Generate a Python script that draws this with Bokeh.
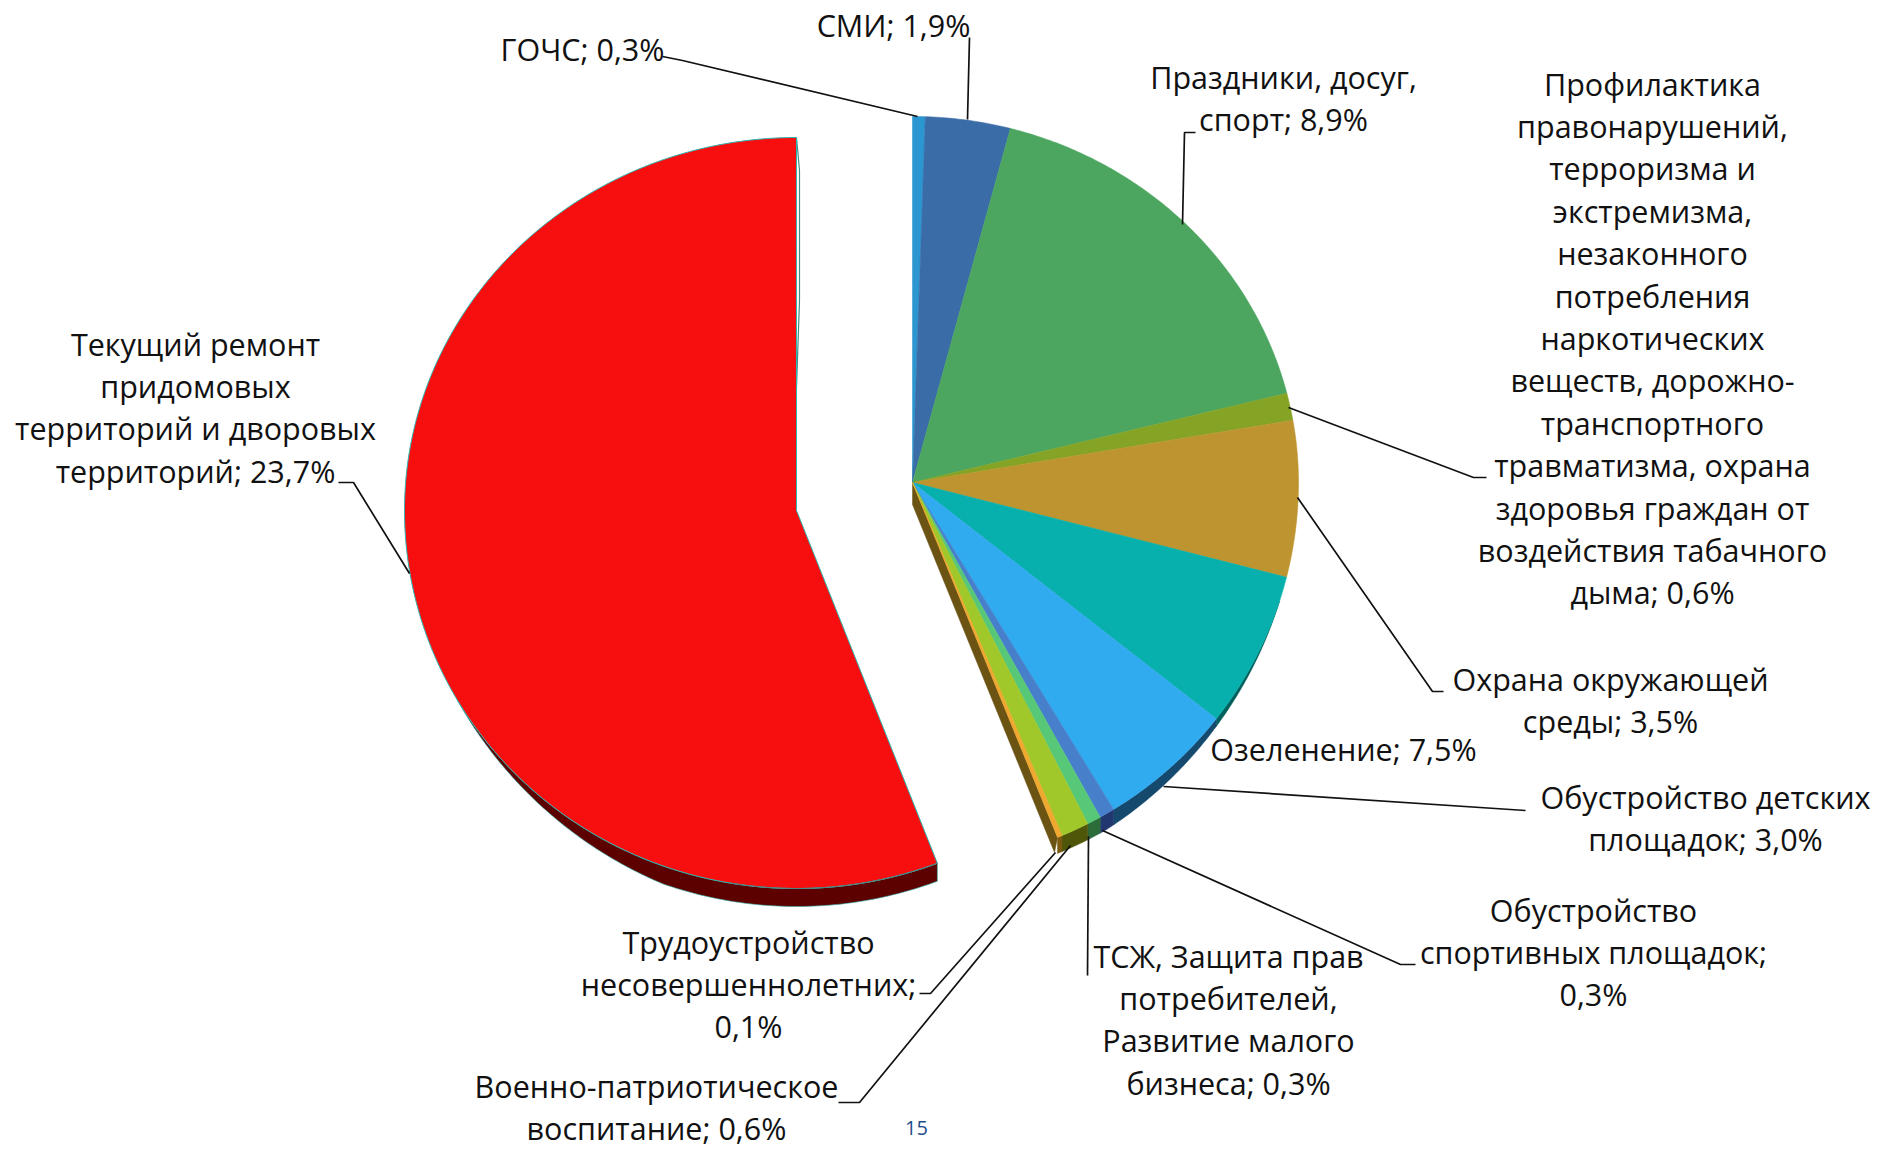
import numpy as np
from bokeh.plotting import figure
from bokeh.core.properties import value
from bokeh.embed import file_html
from bokeh.resources import INLINE

# ---- data ----
right_categories = ["ГОЧС", "СМИ", "Праздники, досуг, спорт", "Профилактика", "Охрана окружающей среды",
                    "Озеленение", "Обустройство детских площадок", "Обустройство спортивных площадок",
                    "ТСЖ", "Военно-патриотическое воспитание", "Трудоустройство несовершеннолетних"]
right_shares = [0.53, 3.55, 17.0, 1.2, 6.7, 6.6, 5.7, 0.64, 0.58, 1.17, 0.2]   # drawn share of the circle, %
red_category = "Текущий ремонт"
red_share = 55.85
right_colors = ["#2B96CF", "#3A6CA8", "#4CA660", "#85A426", "#BD942F", "#07B0AC", "#30ABEF",
                "#477FCB", "#57C878", "#A0C82A", "#EFA830"]
right_side = ["#14506F", "#1C3A5C", "#24583A", "#46580F", "#6B5314", "#005F5C", "#154A6E",
              "#20386F", "#2C6B3A", "#4F5509", "#7A5A10"]
red_color = "#F70E0E"
red_side_color = "#5C0000"
cut_color = "#6B5314"

labels = [
    ["ГОЧС; 0,3%"],
    ["СМИ; 1,9%"],
    ["Праздники, досуг,", "спорт; 8,9%"],
    ["Профилактика", "правонарушений,", "терроризма и", "экстремизма,", "незаконного", "потребления",
     "наркотических", "веществ, дорожно-", "транспортного", "травматизма, охрана", "здоровья граждан от",
     "воздействия табачного", "дыма; 0,6%"],
    ["Охрана окружающей", "среды; 3,5%"],
    ["Озеленение; 7,5%"],
    ["Обустройство детских", "площадок; 3,0%"],
    ["Обустройство", "спортивных площадок;", "0,3%"],
    ["ТСЖ, Защита прав", "потребителей,", "Развитие малого", "бизнеса; 0,3%"],
    ["Трудоустройство", "несовершеннолетних;", "0,1%"],
    ["Военно-патриотическое", "воспитание; 0,6%"],
    ["Текущий ремонт", "придомовых", "территорий и дворовых", "территорий; 23,7%"],
]

# ---- layout (page pixels) ----
label_x = [582, 893, 1283, 1652, 1610, 1343, 1705, 1593, 1228, 748, 656, 195]
label_y = [48, 24, 76, 83, 678, 748, 796, 909, 955, 941, 1085, 343]
line_gap = 42.4

leaders = [
    [(662, 56), (682, 60), (917, 116)],
    [(969, 37), (967, 119)],
    [(1195, 132), (1184, 132), (1182, 224)],
    [(1486, 477), (1473, 477), (1288, 407)],
    [(1443, 691), (1432, 691), (1297, 497)],
    [(1525, 810), (1163, 786)],
    [(1415, 964), (1400, 964), (1102, 830)],
    [(1087, 975), (1088, 836)],
    [(838, 1102), (859, 1102), (1070, 845)],
    [(919, 993), (930, 993), (1055, 852)],
    [(338, 482), (353, 482), (409, 573)],
]

RC = (912, 482, 386, 366, 383)   # right pie: cx, cy, rx, ry up, ry down
LC = (796, 510, 392, 373, 378)   # red slice


def rim(c, deg):
    cx, cy, rx, up, low = c
    t = np.radians(deg)
    cos = np.cos(t)
    return cx + rx * np.sin(t), cy - np.where(cos > 0, up, low) * cos


p = figure(width=1877, height=1152, x_range=(0, 1877), y_range=(1152, 0),
           output_backend="svg", toolbar_location=None, min_border=0,
           outline_line_color=None)
p.axis.visible = False
p.grid.visible = False
p.background_fill_color = "white"
p.border_fill_color = "white"

# red slice: side, then top
red_start = 360 - red_share * 3.6
th = np.linspace(red_start, 240, 120)
depth = 18 * np.clip((240 - th) / 40, 0, 1)
x, y = rim(LC, th)
p.patch(list(x) + list(x[::-1]), list(y) + list((y + depth)[::-1]),
        fill_color=red_side_color, line_color="#2FB5B0", line_width=0.6)
p.line([792, 799, 799, 796], [503, 300, 170, 137], line_color="#3F8F8C", line_width=1.2)
th = np.linspace(red_start, 360, 240)
x, y = rim(LC, th)
p.patch([LC[0]] + list(x), [LC[1]] + list(y), fill_color=red_color,
        line_color="#2FB5B0", line_width=1)
x, y = rim(LC, np.linspace(red_start, 190, 60))
p.line(x, y, line_color="#4F8080", line_width=1)

# right pie: cut face
edges = np.cumsum([0] + right_shares) * 3.6
ex, ey = rim(RC, edges[-1])
p.patch([RC[0], float(ex), float(ex) - 3, RC[0]], [RC[1], float(ey), float(ey) + 15, RC[1] + 22],
        fill_color=cut_color, line_color=cut_color, line_width=0.5)

# right pie: outer side wall
for a, b, col in zip(edges[:-1], edges[1:], right_side):
    if b <= 108:
        continue
    th = np.linspace(max(a, 108), b, 40)
    depth = 16 * np.clip((th - 108) / 42, 0, 1)
    x, y = rim(RC, th)
    p.patch(list(x) + list(x[::-1]), list(y) + list((y + depth)[::-1]),
            fill_color=col, line_color=col, line_width=0.5)

# right pie: top faces
for a, b, col in zip(edges[:-1], edges[1:], right_colors):
    th = np.linspace(a, b, max(4, int(b - a) * 2))
    x, y = rim(RC, th)
    p.patch([RC[0]] + list(x), [RC[1]] + list(y), fill_color=col,
            line_color=col, line_alpha=0.9, line_width=0.6)

# leader lines
for pts in leaders:
    p.line([q[0] for q in pts], [q[1] for q in pts], line_color="#111111", line_width=1.7)

# labels
tx, ty, tt = [], [], []
for lines, lx, ly in zip(labels, label_x, label_y):
    for i, s in enumerate(lines):
        tx.append(lx)
        ty.append(ly + i * line_gap)
        tt.append(s)
p.text(tx, ty, text=tt, text_font=value("Open Sans"), text_font_size="30.5px",
       text_color="#111111", text_align="center", text_baseline="middle")
p.text([916], [1127], text=["15"], text_font=value("Open Sans"), text_font_size="20px",
       text_color="#1F4E8C", text_align="center", text_baseline="middle")

open("out.html", "w").write(file_html(p, INLINE))
